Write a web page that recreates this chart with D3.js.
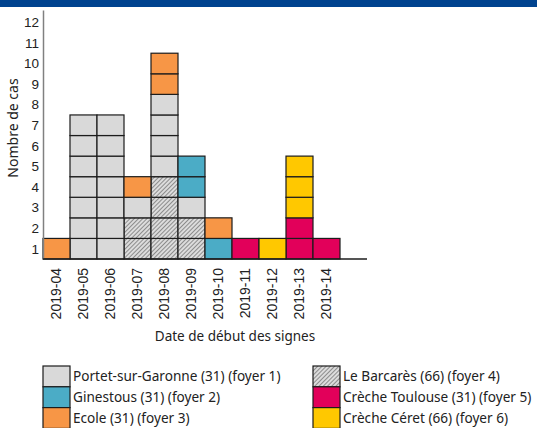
<!DOCTYPE html>
<html>
<head>
<meta charset="utf-8">
<script src="https://cdn.jsdelivr.net/npm/d3@7"></script>
<style>
  body { margin: 0; background: #fff; }
  svg { display: block; font-family: "Noto Sans", "DejaVu Sans", sans-serif; }
  .tick text { fill: #222; }
</style>
</head>
<body>
<div id="chart"></div>
<script>
// semaines (date de début des signes)
const weeks = ["2019-04", "2019-05", "2019-06", "2019-07", "2019-08", "2019-09",
               "2019-10", "2019-11", "2019-12", "2019-13", "2019-14"];

// nombre de cas par foyer et par semaine (ordre d'empilement : bas -> haut)
const barcares  = [0, 0, 0, 2, 4, 2, 0, 0, 0, 0, 0];
const portet    = [0, 7, 7, 1, 4, 1, 0, 0, 0, 0, 0];
const ginestous = [0, 0, 0, 0, 0, 2, 1, 0, 0, 0, 0];
const ecole     = [1, 0, 0, 1, 2, 0, 1, 0, 0, 0, 0];
const toulouse  = [0, 0, 0, 0, 0, 0, 0, 1, 0, 2, 1];
const ceret     = [0, 0, 0, 0, 0, 0, 0, 0, 1, 3, 0];

const yTicks = d3.range(1, 13);

const foyers = [
  { key: "barcares",  label: "Le Barcarès (66) (foyer 4)",        fill: "url(#hatch)", values: barcares },
  { key: "portet",    label: "Portet-sur-Garonne (31) (foyer 1)", fill: "#d9d9d9",     values: portet },
  { key: "ginestous", label: "Ginestous (31) (foyer 2)",          fill: "#4bacc6",     values: ginestous },
  { key: "ecole",     label: "Ecole (31) (foyer 3)",              fill: "#f79646",     values: ecole },
  { key: "toulouse",  label: "Crèche Toulouse (31) (foyer 5)",    fill: "#e2005a",     values: toulouse },
  { key: "ceret",     label: "Crèche Céret (66) (foyer 6)",       fill: "#ffc800",     values: ceret },
];
// ordre de la légende (2 colonnes)
const legendOrder = ["portet", "ginestous", "ecole", "barcares", "toulouse", "ceret"];

const W = 537, H = 428;
const svg = d3.select("#chart").append("svg").attr("width", W).attr("height", H);

// motif hachuré
const defs = svg.append("defs");
const pat = defs.append("pattern")
  .attr("id", "hatch").attr("patternUnits", "userSpaceOnUse")
  .attr("width", 3).attr("height", 3)
  .attr("patternTransform", "rotate(45)");
pat.append("rect").attr("width", 3).attr("height", 3).attr("fill", "#dcdcdc");
pat.append("line").attr("x1", 0.5).attr("y1", 0).attr("x2", 0.5).attr("y2", 3)
  .attr("stroke", "#8c8c8c").attr("stroke-width", 1);

// bandeau du haut
svg.append("rect").attr("x", 0).attr("y", 0).attr("width", W).attr("height", 7).attr("fill", "#00438f");

// échelles
const x = d3.scaleBand().domain(weeks).range([43, 43 + 27 * weeks.length]).padding(0);
const y = d3.scaleLinear().domain([0, 12.1]).range([259, 10]);

// empilement
const table = weeks.map((w, i) => {
  const row = { week: w };
  foyers.forEach(f => row[f.key] = f.values[i]);
  return row;
});
const stack = d3.stack().keys(foyers.map(f => f.key))(table);
const fillOf = Object.fromEntries(foyers.map(f => [f.key, f.fill]));

// une case par cas
const cells = [];
stack.forEach(layer => {
  layer.forEach(seg => {
    for (let k = seg[0]; k < seg[1]; k++) {
      cells.push({ week: seg.data.week, k, key: layer.key });
    }
  });
});

svg.append("g").selectAll("rect")
  .data(cells)
  .join("rect")
  .attr("x", d => x(d.week))
  .attr("y", d => y(d.k + 1))
  .attr("width", x.bandwidth())
  .attr("height", d => y(d.k) - y(d.k + 1))
  .attr("fill", d => fillOf[d.key])
  .attr("stroke", "#1c1c1c")
  .attr("stroke-width", 1.2);

// axe Y
const gy = svg.append("g")
  .attr("transform", `translate(${x.range()[0]},0)`)
  .call(d3.axisLeft(y).tickValues(yTicks.map(t => t - 0.5)).tickFormat(d => d + 0.5).tickSize(0).tickPadding(4));
gy.select(".domain").attr("stroke", "#808080").attr("stroke-width", 1.5);
gy.selectAll("text").attr("font-size", 13.5);

// axe X
const gx = svg.append("g")
  .attr("transform", `translate(0,${y(0)})`)
  .call(d3.axisBottom(x).tickSize(0));
gx.select(".domain").remove();
gx.selectAll("text")
  .attr("font-size", 14)
  .attr("transform", "rotate(-90)")
  .attr("text-anchor", "end")
  .attr("dx", "-9")
  .attr("dy", "0.35em")
  .attr("x", 0).attr("y", 0);
svg.append("line")
  .attr("x1", x.range()[0]).attr("x2", x.range()[1] + x.bandwidth())
  .attr("y1", y(0)).attr("y2", y(0))
  .attr("stroke", "#1c1c1c").attr("stroke-width", 1.5);

// titres d'axes
svg.append("text")
  .attr("x", 235).attr("y", 341)
  .attr("text-anchor", "middle").attr("font-size", 13.5).attr("fill", "#222")
  .text("Date de début des signes");
svg.append("text")
  .attr("transform", `translate(18,128) rotate(-90)`)
  .attr("text-anchor", "middle").attr("font-size", 14).attr("fill", "#222")
  .text("Nombre de cas");

// légende
const legend = svg.append("g");
legendOrder.forEach((key, i) => {
  const f = foyers.find(d => d.key === key);
  const col = Math.floor(i / 3), row = i % 3;
  const g = legend.append("g").attr("transform", `translate(${43 + col * 270},${366 + row * 20.8})`);
  g.append("rect").attr("width", 27).attr("height", 20.8)
    .attr("fill", f.fill).attr("stroke", "#1c1c1c").attr("stroke-width", 1.2);
  g.append("text").attr("x", 30).attr("y", 10.4).attr("dy", "0.35em")
    .attr("font-size", 13.6).attr("fill", "#222").text(f.label);
});
</script>
</body>
</html>
